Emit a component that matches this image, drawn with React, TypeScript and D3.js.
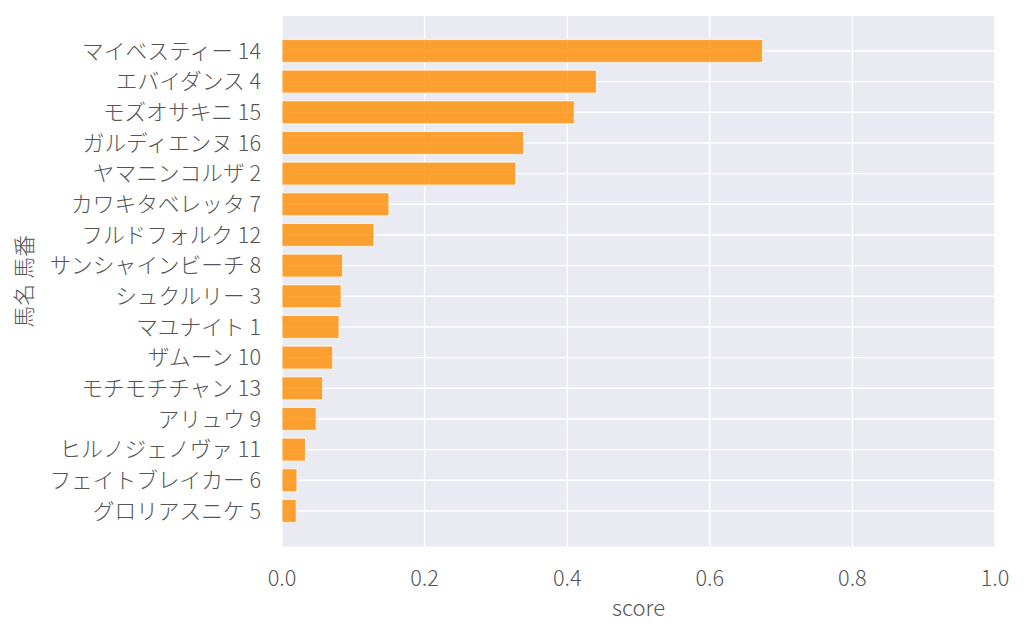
import React from "react";
import * as d3 from "d3";

const horses = [
  "マイベスティー 14",
  "エバイダンス 4",
  "モズオサキニ 15",
  "ガルディエンヌ 16",
  "ヤマニンコルザ 2",
  "カワキタベレッタ 7",
  "フルドフォルク 12",
  "サンシャインビーチ 8",
  "シュクルリー 3",
  "マユナイト 1",
  "ザムーン 10",
  "モチモチチャン 13",
  "アリュウ 9",
  "ヒルノジェノヴァ 11",
  "フェイトブレイカー 6",
  "グロリアスニケ 5",
];
const scores = [
  0.674, 0.441, 0.410, 0.339, 0.328, 0.150, 0.129, 0.085, 0.083, 0.080,
  0.071, 0.057, 0.048, 0.033, 0.021, 0.020,
];
const xTicks = [0, 0.2, 0.4, 0.6, 0.8, 1.0];
const xLabel = "score";
const yLabel = "馬名 馬番";

const W = 1024;
const H = 638;
const left = 282;
const right = 995;
const top = 16;
const bottom = 546.5;
const FONT = "'Noto Sans CJK JP', 'Noto Sans', sans-serif";

export default function App() {
  const x = d3.scaleLinear().domain([0, 1]).range([left, right]);
  const y = d3
    .scaleLinear()
    .domain([-1.14, horses.length - 1 + 1.16])
    .range([top, bottom]);
  const barH = 23;
  const textColor = "#555";

  return (
    <svg
      width={W}
      height={H}
      style={{ position: "absolute", left: 0, top: 0, background: "#fff" }}
      fontFamily={FONT}
    >
      <rect x={left} y={top} width={right - left} height={bottom - top} fill="#eaeaf2" />
      {xTicks.map((t) => (
        <line key={"vx" + t} x1={x(t)} x2={x(t)} y1={top} y2={bottom} stroke="#fff" strokeWidth={1.4} />
      ))}
      {horses.map((h, i) => (
        <line key={"hy" + i} x1={left} x2={right} y1={y(i)} y2={y(i)} stroke="#fff" strokeWidth={1.4} />
      ))}
      {horses.map((h, i) => (
        <rect
          key={"b" + i}
          x={x(0)}
          y={y(i) - barH / 2}
          width={x(scores[i]) - x(0)}
          height={barH}
          fill="#ff8c00"
          fillOpacity={0.8}
          stroke="#ffffff"
          strokeOpacity={0.7}
          strokeWidth={1.2}
        />
      ))}
      {horses.map((h, i) => (
        <text
          key={"yl" + i}
          x={left - 21}
          y={y(i)}
          dy="0.36em"
          textAnchor="end"
          fontSize={21.7}
          fontWeight={300}
          fill={textColor}
        >
          {h}
        </text>
      ))}
      {xTicks.map((t) => (
        <text
          key={"xl" + t}
          x={x(t)}
          y={bottom + 32}
          dy="0.36em"
          textAnchor="middle"
          fontSize={21.7}
          fontWeight={300}
          fill={textColor}
        >
          {d3.format(".1f")(t)}
        </text>
      ))}
      <text
        x={(left + right) / 2}
        y={bottom + 62}
        dy="0.36em"
        textAnchor="middle"
        fontSize={22}
        fontWeight={300}
        fill={textColor}
      >
        {xLabel}
      </text>
      <text
        transform={`translate(24, ${(top + bottom) / 2}) rotate(-90)`}
        textAnchor="middle"
        dy="0.36em"
        fontSize={22}
        fontWeight={300}
        fill={textColor}
      >
        {yLabel}
      </text>
    </svg>
  );
}
